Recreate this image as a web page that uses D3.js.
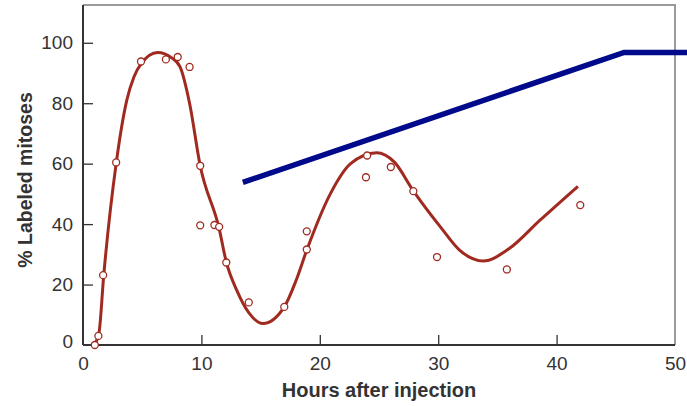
<!DOCTYPE html>
<html>
<head>
<meta charset="utf-8">
<script src="https://cdn.jsdelivr.net/npm/d3@7"></script>
<style>
  body { margin: 0; background: #fff; }
  svg { display: block; font-family: "Liberation Sans", Arial, sans-serif; }
</style>
</head>
<body>
<div id="chart"></div>
<script>
// observed points (hours, % labeled mitoses)
var obsHours = [1.0, 1.3, 1.7, 2.8, 4.9, 7.0, 8.0, 9.0, 9.9, 9.9, 11.1, 11.5, 12.1, 14.0, 17.0, 18.9, 18.9, 24.0, 23.9, 26.0, 27.9, 29.9, 35.8, 42.0];
var obsPct   = [0, 3.0, 23.1, 60.4, 93.8, 94.5, 95.3, 92.0, 59.3, 39.6, 39.7, 39.1, 27.3, 14.1, 12.6, 37.6, 31.6, 62.7, 55.5, 58.9, 50.9, 29.1, 25.0, 46.3];

// fitted curve
var fitHours = [1.0, 1.35, 1.75, 2.8, 3.7, 4.3, 4.9, 6.3, 7.5, 8.2, 9.0, 9.9, 11.5, 12.1, 13.0, 14.0, 15.2, 17.0, 18.0, 18.9, 20.9, 22.6, 24.8, 26.3, 27.9, 30.2, 31.8, 33.8, 36.0, 38.6, 41.8];
var fitPct   = [0.5, 4, 23, 60, 81, 88.7, 93, 96.8, 95, 92, 80, 59.3, 38.5, 27.5, 18, 10.7, 7.1, 12.6, 21.4, 31.4, 50.1, 60, 63.6, 60.5, 51, 39, 31.4, 27.8, 31.9, 41.3, 52.5];

// straight reference line
var refHours = [13.5, 45.7, 51.5];
var refPct   = [53.8, 96.8, 96.8];

var xTicks = [0, 10, 20, 30, 40, 50];
var yTicks = [0, 20, 40, 60, 80, 100];

var margin = {top: 5, right: 12, bottom: 61, left: 83},
    width = 687 - margin.left - margin.right,
    height = 406 - margin.top - margin.bottom;

var svg = d3.select("#chart").append("svg")
    .attr("width", 687)
    .attr("height", 406)
    .append("g")
    .attr("transform", "translate(" + margin.left + "," + margin.top + ")");

var x = d3.scaleLinear().domain([0, 50]).range([0, width]),
    y = d3.scaleLinear().domain([0, 112.5]).range([height, 0]);

var red = "#a02a20", navy = "#000a8a", ink = "#333";

// frame: top and right in grey
svg.append("path")
    .attr("d", "M0,0H" + width + "V" + height)
    .attr("fill", "none")
    .attr("stroke", "#9a9a9a")
    .attr("stroke-width", 2);

var xAxis = svg.append("g")
    .attr("transform", "translate(0," + height + ")")
    .call(d3.axisBottom(x).tickValues(xTicks).tickSize(-10).tickSizeOuter(0).tickPadding(12));

var yAxis = svg.append("g")
    .call(d3.axisLeft(y).tickValues(yTicks).tickSize(-10).tickSizeOuter(0).tickPadding(10));

[xAxis, yAxis].forEach(function (g) {
    g.select(".domain").attr("stroke", ink).attr("stroke-width", 2);
    g.selectAll(".tick line").attr("stroke", ink).attr("stroke-width", 1.3);
    g.selectAll(".tick text")
        .attr("fill", ink)
        .style("font-size", "19px")
        .style("font-family", "'Liberation Sans', Arial, sans-serif");
});
xAxis.select(".domain").attr("d", "M0,0H" + width);
yAxis.select(".domain").attr("d", "M0,0V" + height);
xAxis.selectAll(".tick line").filter(function (d) { return d === 0 || d === 50; }).remove();
yAxis.selectAll(".tick line").filter(function (d) { return d === 0; }).remove();
yAxis.selectAll(".tick text").filter(function (d) { return d === 0; })
    .attr("dy", "0.12em");

svg.append("text")
    .attr("x", x(25))
    .attr("y", height + 52)
    .attr("text-anchor", "middle")
    .attr("fill", ink)
    .style("font-size", "20px")
    .style("font-weight", "bold")
    .text("Hours after injection");

svg.append("text")
    .attr("transform", "translate(" + (-51) + "," + (180 - margin.top) + ") rotate(-90)")
    .attr("text-anchor", "middle")
    .attr("fill", ink)
    .style("font-size", "19.5px")
    .style("font-weight", "bold")
    .text("% Labeled mitoses");

// reference line
var refLine = d3.line()
    .x(function (d) { return x(d[0]); })
    .y(function (d) { return y(d[1]); });

svg.append("path")
    .attr("d", refLine(d3.zip(refHours, refPct)))
    .attr("fill", "none")
    .attr("stroke", navy)
    .attr("stroke-width", 5.5);

// fitted curve
var fitLine = d3.line()
    .curve(d3.curveMonotoneX)
    .x(function (d) { return x(d[0]); })
    .y(function (d) { return y(d[1]); });

svg.append("path")
    .attr("d", fitLine(d3.zip(fitHours, fitPct)))
    .attr("fill", "none")
    .attr("stroke", red)
    .attr("stroke-width", 3);

svg.selectAll(".obs")
    .data(d3.zip(obsHours, obsPct))
    .enter().append("circle")
    .attr("class", "obs")
    .attr("cx", function (d) { return x(d[0]); })
    .attr("cy", function (d) { return y(d[1]); })
    .attr("r", 3.5)
    .attr("fill", "#fff")
    .attr("stroke", red)
    .attr("stroke-width", 1.3);
</script>
</body>
</html>
